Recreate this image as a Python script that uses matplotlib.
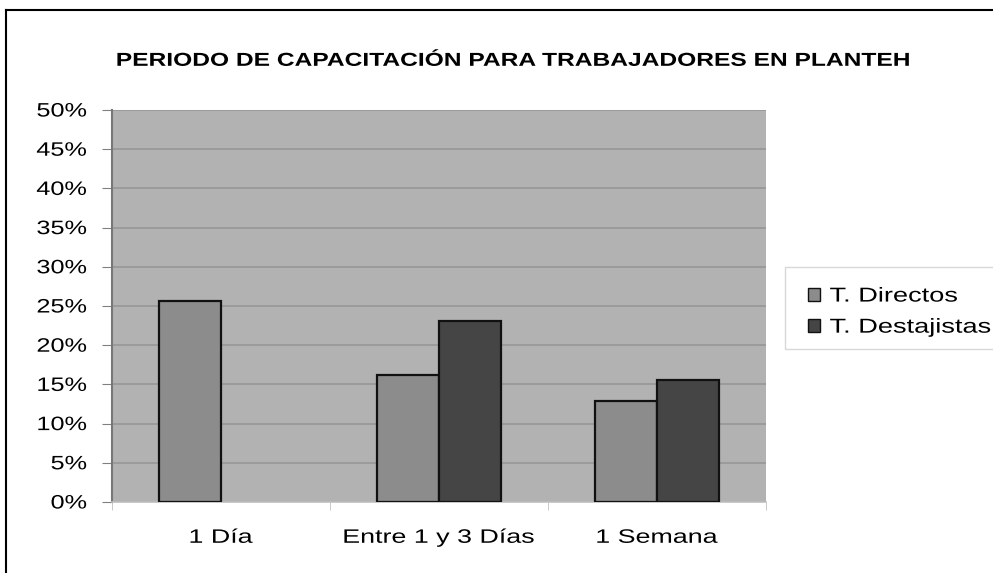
import numpy as np
import matplotlib.pyplot as plt
from matplotlib.lines import Line2D
from matplotlib.patches import Patch, Rectangle
from matplotlib.patheffects import AbstractPathEffect
from matplotlib.transforms import Affine2D

categorias = ["1 Día", "Entre 1 y 3 Días", "1 Semana"]
directos = [25.7, 16.2, 12.9]
destajistas = [0.0, 23.1, 15.5]
series = ["T. Directos", "T. Destajistas"]

plt.rcParams["font.family"] = ["Liberation Sans", "DejaVu Sans"]


# la imagen original está estirada a lo ancho: se ensancha el texto igual
class Estirar(AbstractPathEffect):
    def __init__(self, sx, ancla="left"):
        super().__init__()
        self.sx = sx
        self.ancla = ancla

    def draw_path(self, renderer, gc, tpath, affine, rgbFace=None):
        ext = tpath.get_extents()
        if self.ancla == "right":
            x0 = ext.x1
        elif self.ancla == "center":
            x0 = (ext.x0 + ext.x1) / 2
        else:
            x0 = ext.x0
        t = Affine2D().translate(-x0, 0).scale(self.sx, 1).translate(x0, 0) + affine
        renderer.draw_path(gc, tpath, t, rgbFace)


fig = plt.figure(figsize=(9.93, 5.73), dpi=100)
ax = fig.add_axes([0.1128, 0.1239, 0.6586, 0.6841])
ax.set_facecolor("#b2b2b2")

x = np.arange(len(categorias))
ancho = 0.285
ax.bar(x - ancho / 2, directos, ancho, color="#8c8c8c", edgecolor="#111111",
       linewidth=[1.6 if v > 0 else 0 for v in directos], zorder=3)
ax.bar(x + ancho / 2, destajistas, ancho, color="#454545", edgecolor="#111111",
       linewidth=[1.6 if v > 0 else 0 for v in destajistas], zorder=3)

ax.set_xlim(-0.5, 2.5)
ax.set_ylim(0, 50)
ax.set_yticks(np.arange(0, 51, 5))
ax.set_yticklabels([f"{v}%" for v in range(0, 51, 5)], fontsize=14)
ax.yaxis.grid(True, color="#979797", linewidth=1.2, zorder=0)
ax.set_xticks(x)
ax.set_xticklabels(categorias, fontsize=14)
ax.set_xticks([-0.5, 0.5, 1.5, 2.5], minor=True)
ax.tick_params(axis="x", which="major", length=0, pad=20)
ax.tick_params(axis="x", which="minor", length=6, color="#c0c0c0")
ax.tick_params(axis="y", length=7, color="#808080", pad=11)
for lado in ["top", "right"]:
    ax.spines[lado].set_visible(False)
ax.spines["left"].set_color("#777777")
ax.spines["bottom"].set_color("#c0c0c0")
ax.spines["left"].set_linewidth(1.5)
ax.spines["bottom"].set_linewidth(1.2)

for t in ax.get_yticklabels():
    t.set_path_effects([Estirar(1.3, "right")])
for t in ax.get_xticklabels():
    t.set_path_effects([Estirar(1.38, "center")])

titulo = fig.text(0.117, 0.893, "PERIODO DE CAPACITACIÓN PARA TRABAJADORES EN PLANTEH",
                  fontsize=13.5, fontweight="bold", va="center", ha="left")
titulo.set_path_effects([Estirar(1.31, "left")])

handles = [Patch(facecolor="#8c8c8c", edgecolor="#111111"),
           Patch(facecolor="#454545", edgecolor="#111111")]
leg = fig.legend(handles, series, loc="upper left", bbox_to_anchor=(0.797, 0.528),
                 fontsize=14.5, frameon=False, handlelength=0.6,
                 handleheight=0.6, handletextpad=0.5, borderpad=0.3, labelspacing=0.6)
for t in leg.get_texts():
    t.set_path_effects([Estirar(1.35, "left")])

# recuadro de la leyenda (se corta en el borde derecho)
fig.add_artist(Rectangle((0.791, 1 - 349 / 573), 0.25, 82 / 573, transform=fig.transFigure,
                         facecolor="none", edgecolor="#d8d8d8", linewidth=1.0))

# marco del gráfico
fig.add_artist(Line2D([0.006, 0.006], [0.0, 0.983], color="black", linewidth=1.5))
fig.add_artist(Line2D([0.006, 1.0], [0.983, 0.983], color="black", linewidth=1.5))

plt.savefig("out.png", dpi=100)
